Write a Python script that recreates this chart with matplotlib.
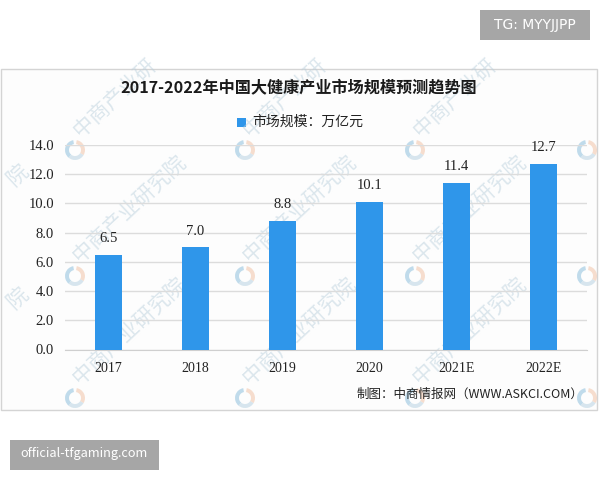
import matplotlib
matplotlib.use("Agg")
import matplotlib.pyplot as plt
from matplotlib.patches import Rectangle, Wedge
from matplotlib.transforms import IdentityTransform

plt.rcParams['font.family'] = ['Noto Sans CJK SC', 'DejaVu Sans']

anos = ["2017", "2018", "2019", "2020", "2021E", "2022E"]
valores = [6.5, 7.0, 8.8, 10.1, 11.4, 12.7]
ticks_y = [0.0, 2.0, 4.0, 6.0, 8.0, 10.0, 12.0, 14.0]
titulo = "2017-2022年中国大健康产业市场规模预测趋势图"
legenda = "市场规模：万亿元"
fonte = "制图：中商情报网（WWW.ASKCI.COM）"

W, H = 600, 480
fig = plt.figure(figsize=(6, 4.8), dpi=100)


def fx(x):
    return x / W


def fy(y):
    return 1 - y / H


# moldura do grafico
fig.add_artist(Rectangle((fx(1), fy(410)), 596 / W, 341 / H, transform=fig.transFigure,
                         fc="#fdfdfd", ec="#d4d4d4", lw=1, zorder=-2))

ax = fig.add_axes([fx(65), fy(349.5), 522 / W, 204.5 / H])
ax.set_zorder(5)
ax.patch.set_alpha(0)
ax.bar(range(len(anos)), valores, width=0.31, color="#2f96ea", zorder=3)
ax.set_xlim(-0.5, 5.5)
ax.set_ylim(0, 14)
ax.set_yticks(ticks_y)
ax.set_yticklabels([f"{v:.1f}" for v in ticks_y], family="Liberation Serif", fontsize=10.5, color="#222222")
ax.set_xticks(range(len(anos)))
ax.set_xticklabels(anos, family="Liberation Serif", fontsize=10, color="#222222")
ax.tick_params(axis="y", length=0, pad=8)
ax.tick_params(axis="x", length=0, pad=9)
ax.grid(axis="y", color="#dcdcdc", lw=1, zorder=0)
ax.set_axisbelow(True)
for s in ["top", "right", "left"]:
    ax.spines[s].set_visible(False)
ax.spines["bottom"].set_color("#cfcfcf")

for i, v in enumerate(valores):
    ax.annotate(f"{v:.1f}", (i, v), xytext=(0, 7), textcoords="offset points", ha="center",
                va="bottom", family="Liberation Serif", fontsize=10.5, color="#222222", zorder=5)

# marca d'agua
for y0 in [150, 276, 398]:
    for x0 in [75, 245, 415, 587]:
        if x0 < 500:
            texto = "中商产业研" if y0 == 150 else "中商产业研究院"
            fig.text(fx(x0 + 9), fy(y0 - 9), texto, fontsize=15, rotation=43, color="#b9cfdc",
                     alpha=0.5, ha="left", va="bottom", rotation_mode="anchor")
        for t1, t2, cor in [(100, 230, "#8fc0dd"), (230, 330, "#b9d3e2"), (330, 440, "#f2c4a8")]:
            fig.add_artist(Wedge((x0, H - y0), 10, t1, t2, width=4, fc=cor, ec="none", alpha=0.55,
                                 transform=IdentityTransform()))
for y0 in [175, 298]:
    fig.text(fx(17), fy(y0), "院", fontsize=15, rotation=43, color="#b9cfdc", alpha=0.5,
             ha="center", va="center")

fig.text(fx(299), fy(88), titulo, ha="center", va="center", fontsize=11.6, fontweight="bold", color="#1a1a1a")
fig.add_artist(Rectangle((fx(237), fy(127)), 9 / W, 9 / H, transform=fig.transFigure, fc="#2f96ea", ec="none"))
fig.text(fx(252), fy(122), legenda, ha="left", va="center", fontsize=10, color="#222222")
fig.text(fx(357), fy(394), fonte, ha="left", va="center", fontsize=9, color="#222222")

# etiquetas cinzas
fig.add_artist(Rectangle((fx(480), fy(40)), 110 / W, 30 / H, transform=fig.transFigure, fc="#a6a6a6", ec="none"))
fig.text(fx(535), fy(25), "TG: MYYJJPP", ha="center", va="center", fontsize=10, family="DejaVu Sans", color="white")
fig.add_artist(Rectangle((fx(10), fy(470)), 149 / W, 30 / H, transform=fig.transFigure, fc="#a6a6a6", ec="none"))
fig.text(fx(84), fy(454), "official-tfgaming.com", ha="center", va="center", fontsize=9.2, color="white")

fig.savefig("out.png", dpi=100)
